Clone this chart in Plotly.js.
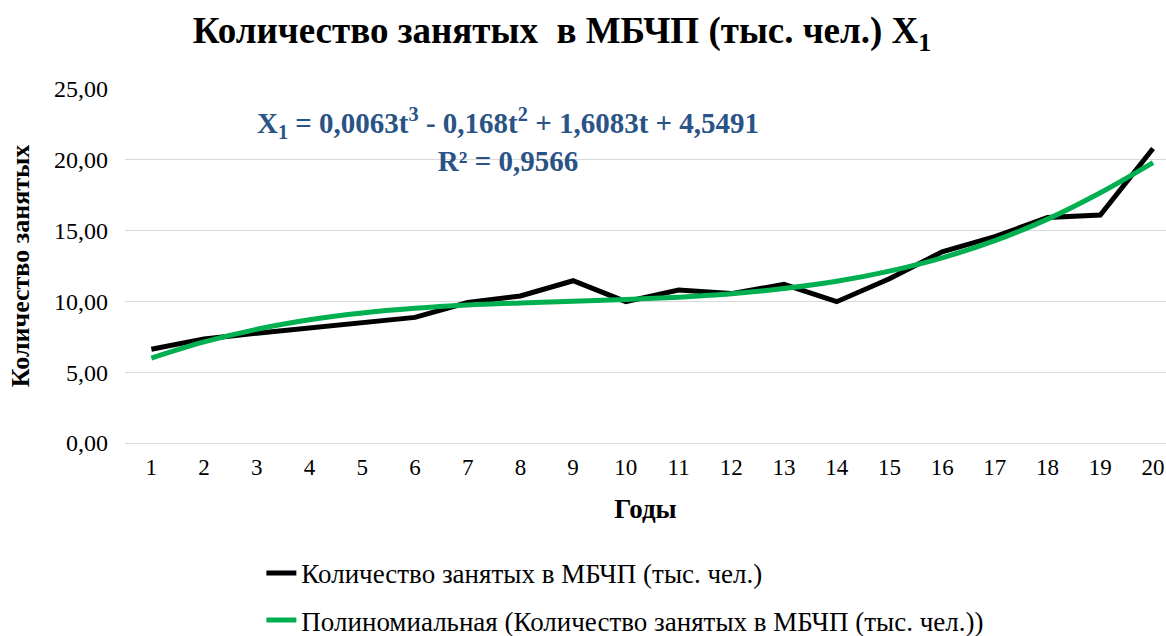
<!DOCTYPE html>
<html><head><meta charset="utf-8">
<script src="https://cdn.plot.ly/plotly-3.0.1.min.js"></script>
<style>body{margin:0;background:#fff}#chart{width:1166px;height:636px}</style>
</head><body><div id="chart"></div>
<script>
const years = [1,2,3,4,5,6,7,8,9,10,11,12,13,14,15,16,17,18,19,20];
const employed = [6.62,7.35,7.75,8.14,8.5,8.87,9.92,10.38,11.46,9.98,10.8,10.55,11.2,9.98,11.6,13.5,14.57,15.92,16.1,20.8];
const trend = [6.0,7.14,8.03,8.7,9.18,9.51,9.74,9.89,10.01,10.13,10.3,10.54,10.91,11.42,12.14,13.08,14.29,15.81,17.67,19.8];
const yTicks = [0,5,10,15,20,25];
const yTickText = ['0,00','5,00','10,00','15,00','20,00','25,00'];
const seriesName = 'Количество занятых в МБЧП (тыс. чел.)';
const trendName = 'Полиномиальная (Количество занятых в МБЧП (тыс. чел.))';

const F = 'Liberation Serif';
const traces = [
  {x: years, y: employed, type:'scatter', mode:'lines', name: seriesName, legendgroup:'a',
   line:{color:'#000000', width:5}},
  {x: years, y: trend, type:'scatter', mode:'lines', name: trendName, legendgroup:'b',
   line:{color:'#00B050', width:5, shape:'spline', smoothing:1}}
];
const layout = {
  width:1166, height:636,
  margin:{l:125, r:0, t:89, b:193, autoexpand:false},
  paper_bgcolor:'#fff', plot_bgcolor:'#fff',
  title:{text:'Количество занятых  в МБЧП (тыс. чел.) X<sub>1</sub>', x:0.482, xanchor:'center', y:0.953, yanchor:'middle',
    font:{family:F, size:37, color:'#000', weight:'bold'}},
  xaxis:{type:'linear', range:[0.5,20.246], tickvals:years, ticktext:years.map(String),
    showgrid:false, zeroline:false, showline:false, ticks:'', ticklabelstandoff:8,
    tickfont:{family:F, size:23, color:'#000'},
    title:{text:'Годы', font:{family:F, size:27, color:'#000', weight:'bold'}, standoff:20}},
  yaxis:{range:[0,25], tickvals:yTicks, ticktext:yTickText, showgrid:true, gridcolor:'#D9D9D9', gridwidth:1,
    zeroline:true, zerolinecolor:'#D9D9D9', zerolinewidth:1, showline:false, ticks:'', ticklabelstandoff:16,
    tickfont:{family:F, size:24, color:'#000'},
    title:{text:'Количество занятых', font:{family:F, size:26, color:'#000', weight:'bold'}, standoff:16}},
  showlegend:true,
  legend:{x:0.131, xanchor:'left', yref:'container', y:0.137, yanchor:'top', orientation:'v',
    font:{family:F, size:27, color:'#000'}, tracegroupgap:9, bgcolor:'rgba(0,0,0,0)'},
  annotations:[{xref:'paper', yref:'paper', x:0.368, y:0.855, xanchor:'center', yanchor:'middle', showarrow:false,
    text:'X<sub>1</sub> = 0,0063t<sup>3</sup> - 0,168t<sup>2</sup> + 1,6083t + 4,5491<br>R² = 0,9566',
    font:{family:F, size:29, color:'#2A5386', weight:'bold'}, align:'center'}]
};
Plotly.newPlot('chart', traces, layout, {displayModeBar:false});
</script></body></html>
